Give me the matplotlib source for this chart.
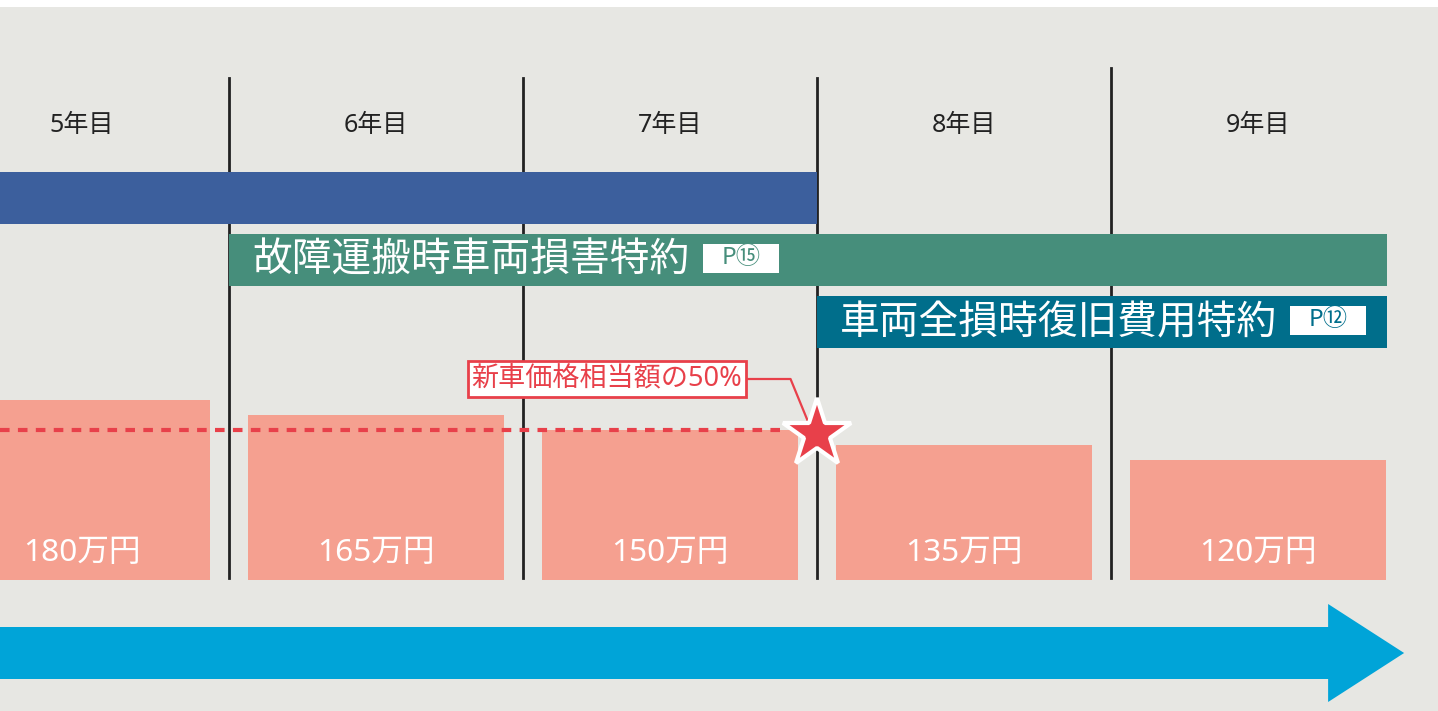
import numpy as np
import matplotlib.pyplot as plt
from matplotlib.patches import Rectangle

plt.rcParams['font.family'] = ['Noto Sans', 'Noto Sans CJK JP', 'DejaVu Sans']

# data
years = [5, 6, 7, 8, 9]
year_labels = [f"{y}年目" for y in years]
values = [180, 165, 150, 135, 120]          # 万円
value_labels = [f"{v}万円" for v in values]
half_value = 150                            # 新車価格相当額の50%

# coverage bands: name, page, start, end
band_names = ["", "故障運搬時車両損害特約", "車両全損時復旧費用特約"]
band_pages = ["", "P⑮", "P⑫"]
band_start = [4.5, 5.5, 7.5]
band_end = [7.5, 9.44, 9.44]

# colours
bg = "#e7e7e3"
bar_col = "#f5a090"
band_cols = ["#3c5f9d", "#468e7b", "#006e8b"]
red = "#e8404a"
arrow_col = "#00a4d8"

fig = plt.figure(figsize=(14.38, 7.11), dpi=100, facecolor="white")
ax = fig.add_axes([0, 0, 1, 704 / 711])
ax.set_facecolor(bg)
x0 = 5 - 82 / 294
x1 = 5 + (1438 - 82) / 294
ax.set_xlim(x0, x1)
ax.set_ylim(-131, 573)
ax.axis("off")
ax.add_patch(Rectangle((0, 0), 1, 1, transform=ax.transAxes, color=bg, zorder=0))

# column dividers
for i, b in enumerate(np.array(years[:-1]) + 0.5):
    top = 512 if i == 3 else 502
    ax.plot([b, b], [2, top], color="#222222", lw=2, zorder=2)

# year headings
for y, lab in zip(years, year_labels):
    ax.text(y, 454, lab, ha="center", va="center", fontsize=18, color="#222222")

# bands
band_y = [382, 320, 258]
for i in range(3):
    s = max(band_start[i], x0)
    ax.barh(band_y[i], band_end[i] - s, left=s, height=52, color=band_cols[i], zorder=3)
    if band_names[i]:
        ax.text(band_start[i] + 0.078, band_y[i] - 2, band_names[i], ha="left", va="center",
                fontsize=28.6, color="white", zorder=5)
box_x = [None, 7.241, 9.238]
for i in (1, 2):
    w = 76 / 294
    ax.add_patch(Rectangle((box_x[i] - w / 2, band_y[i] - 14.5 + 2), w, 29,
                           facecolor="white", edgecolor="none", zorder=4))
    ax.text(box_x[i], band_y[i] + 2, band_pages[i], ha="center", va="center",
            fontsize=17.5, color=band_cols[i], zorder=5)

# value bars
ax.bar(years, values, width=0.874, color=bar_col, zorder=1)
for y, lab in zip(years, value_labels):
    ax.text(y, 27, lab, ha="center", va="center", fontsize=22.8, color="white", zorder=5)

# 50% line and star
ax.plot([x0, 7.398], [half_value, half_value], color=red, lw=3, ls=(0, (2.3, 2)), zorder=2)
star_x = 7.5
ax.plot([star_x - 0.72, star_x - 0.09, star_x - 0.03], [201, 201, half_value + 8],
        color=red, lw=1.6, zorder=6)
ax.plot([star_x], [half_value - 4], marker="*", markersize=52, color=red,
        markeredgecolor="white", markeredgewidth=3, zorder=7)
ax.text(7.5 - 0.715, 201, "新車価格相当額の50%", ha="center", va="center",
        fontsize=19.5, color=red, zorder=8,
        bbox=dict(boxstyle="square,pad=0.14", facecolor="white", edgecolor=red, lw=2))

# time arrow
ax.arrow(x0, -73, 9.497 - x0, 0, width=52, head_width=98, head_length=76 / 294,
         length_includes_head=True, color=arrow_col, lw=0, zorder=3)

fig.savefig("out.png", dpi=100, facecolor="white")
